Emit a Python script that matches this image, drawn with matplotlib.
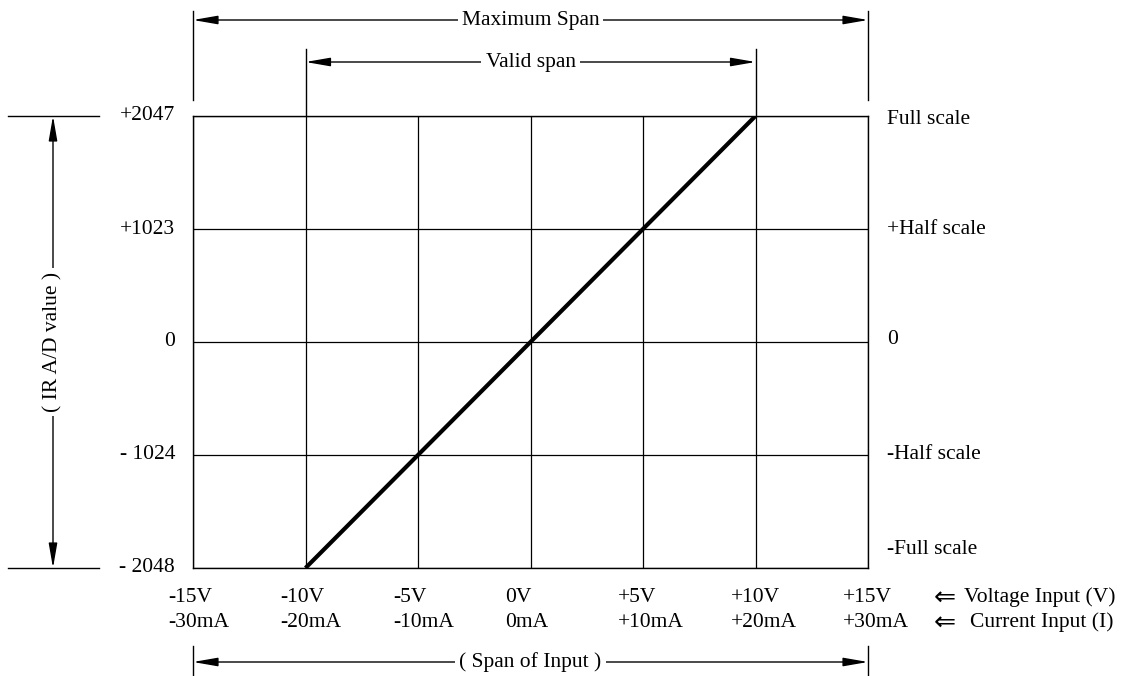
import matplotlib
matplotlib.use('Agg')
import matplotlib.pyplot as plt
from matplotlib.transforms import blended_transform_factory, offset_copy

plt.rcParams['font.family'] = ['Liberation Serif', 'DejaVu Serif']
plt.rcParams['font.size'] = 15.5

# data
volt_ticks = [-15, -10, -5, 0, 5, 10, 15]
volt_labels = ['-15V', '-10V', '-5V', '0V', '+5V', '+10V', '+15V']
curr_labels = ['-30mA', '-20mA', '-10mA', '0mA', '+10mA', '+20mA', '+30mA']
ad_ticks = [-2048, -1024, 0, 1023, 2047]
ad_labels = ['- 2048', '- 1024', '0', '+1023', '+2047']
scale_labels = ['-Full scale', '-Half scale', '0', '+Half scale', 'Full scale']
line_x = [-10, 10]
line_y = [-2048, 2047]
max_span = [-15, 15]
valid_span = [-10, 10]

W, H = 1125, 676
fig = plt.figure(figsize=(W / 100, H / 100), dpi=100)

# overlay in pixel coords for the dimension marks
ov = fig.add_axes([0, 0, 1, 1])
ov.set_xlim(0, W)
ov.set_ylim(H, 0)
ov.axis('off')

L, R, T, B = 193, 868, 116, 568
ax = fig.add_axes([L / W, (H - B) / H, (R - L) / W, (B - T) / H])
ax.set_xlim(-15, 15)
ax.set_ylim(-2048, 2047)
ax.set_xticks(volt_ticks)
ax.set_yticks(ad_ticks)
ax.tick_params(length=0, labelbottom=False, labelleft=False)
ax.grid(True, color='black', lw=0.9)
for s in ax.spines.values():
    s.set_linewidth(1.0)
ax.plot(line_x, line_y, color='black', lw=3, solid_capstyle='butt', zorder=3)

xt = blended_transform_factory(ax.transData, ov.transData)
yt = blended_transform_factory(ov.transData, ax.transData)

# x labels, two rows
for v, vl, cl in zip(volt_ticks, volt_labels, curr_labels):
    tr = offset_copy(xt, fig=fig, x=-25, y=0, units='dots')
    ax.text(v, 602, vl, transform=tr, ha='left', va='baseline', clip_on=False)
    ax.text(v, 627, cl, transform=tr, ha='left', va='baseline', clip_on=False)
for yb in [602, 627]:
    ov.text(942, yb - 4, r'$\Leftarrow$', ha='center', va='center', fontsize=19)
ov.text(1040, 602, 'Voltage Input (V)', ha='center', va='baseline')
ov.text(1042, 627, 'Current Input (I)', ha='center', va='baseline')

# y labels left and right
right_off = [18, 0, 2, 0, -4]
for y, al, sl, off in zip(ad_ticks, ad_labels, scale_labels, right_off):
    ax.text(175, y, al, transform=yt, ha='right', va='center', clip_on=False)
    tr = offset_copy(yt, fig=fig, x=0, y=off, units='dots')
    ax.text(887, y, sl, transform=tr, ha='left', va='center', clip_on=False)

arrow_kw = dict(arrowstyle='<|-|>,head_length=15,head_width=2.6', color='black',
                lw=1.0, shrinkA=0, shrinkB=0, mutation_scale=1)
box = dict(facecolor='white', edgecolor='none', pad=3)


def span(xs, y, y0, y1, label):
    for x in xs:
        ov.plot([x, x], [y0, y1], color='black', lw=1.0, transform=xt)
    ov.annotate('', xy=(xs[0], y), xytext=(xs[1], y), xycoords=xt, textcoords=xt,
                arrowprops=arrow_kw)
    ov.text((xs[0] + xs[1]) / 2, y, label, transform=xt, ha='center', va='center',
            bbox=box, zorder=5)


span(max_span, 20, 11, 100, 'Maximum Span')
span(valid_span, 62, 49, T, 'Valid span')
span(max_span, 662, 646, 676, '( Span of Input )')

# left dimension for the A/D range
for y in [ad_ticks[0], ad_ticks[-1]]:
    ov.plot([8, 99], [y, y], color='black', lw=1.0, transform=yt)
ov.annotate('', xy=(53, ad_ticks[0]), xytext=(53, ad_ticks[-1]), xycoords=yt,
            textcoords=yt, arrowprops=arrow_kw)
ov.text(53, 0, '( IR A/D value )', transform=yt, rotation=90, ha='center',
        va='center', bbox=box, zorder=5)

fig.savefig('out.png', dpi=100)
